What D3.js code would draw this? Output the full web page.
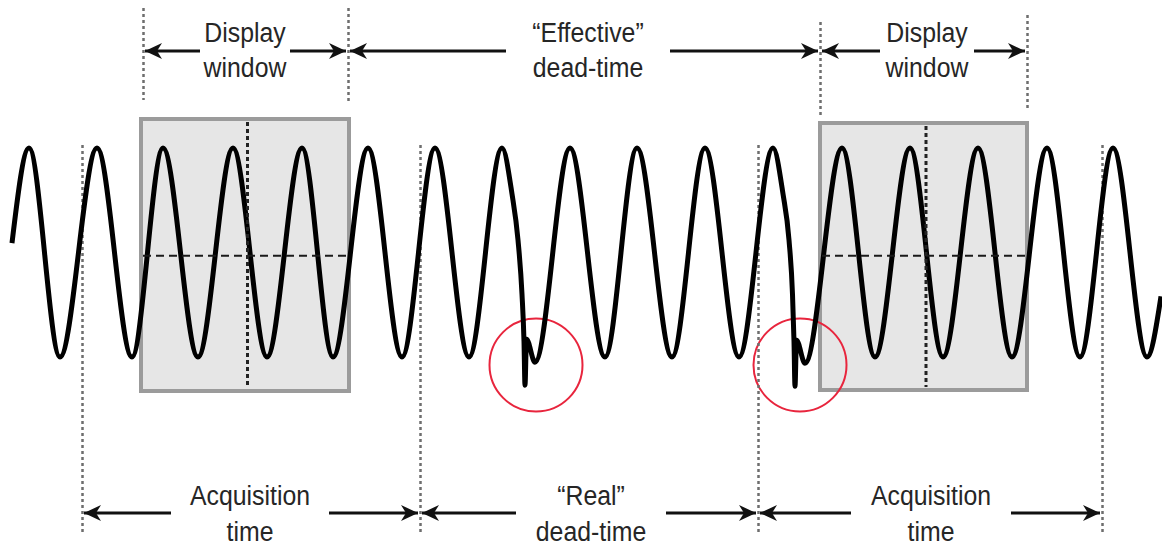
<!DOCTYPE html>
<html>
<head>
<meta charset="utf-8">
<script src="https://cdn.jsdelivr.net/npm/d3@7"></script>
<style>
  html, body { margin: 0; padding: 0; background: #fff; }
  svg { display: block; }
  text { font-family: "Liberation Sans", Arial, sans-serif; }
</style>
</head>
<body>
<svg id="chart" width="1162" height="546"></svg>
<script>
// ---------------- data ----------------
// signal extrema: time position (same units as horizontal axis) and level (-1..1)
const peakT   = [29, 97, 163, 233, 302, 368, 435, 502, 570, 637, 705, 773, 842, 910, 978, 1047, 1113];
const troughT = [60, 132, 198, 267, 333, 402, 469, 605, 672, 739, 875, 943, 1012, 1080, 1147];
// start / end of the trace
const edgeT = [12, 1161];
const edgeV = [0.09, -0.42];
// glitch 1 (re-arm at end of acquisition)
const glitch1T = [512, 518, 522, 524, 525, 526.5, 535];
const glitch1V = [0.56, 0.12, -0.40, -0.85, -1.27, -0.83, -1.05];
// glitch 2
const glitch2T = [783, 789, 792.5, 794, 795, 796.5, 805];
const glitch2V = [0.56, 0.12, -0.40, -0.85, -1.28, -0.84, -1.06];

// acquisition boundaries and display windows
const acqBounds     = [82, 420, 758, 1102];
const displayWins   = [[141, 349], [820, 1027]];
const triggerLevel  = -0.03;
const glitchCenters = [536, 800];

// labels
const topLabels    = [["Display", "window"], ["\u201CEffective\u201D", "dead-time"], ["Display", "window"]];
const topSpans     = [[143, 348], [348, 820], [820, 1027]];
const topCenters   = [245, 588, 927];
const topGaps      = [45, 82, 47];
const bottomLabels = [["Acquisition", "time"], ["\u201CReal\u201D", "dead-time"], ["Acquisition", "time"]];
const bottomCenters = [250, 591, 931];
const bottomGaps   = [79, 75, 80];

// ---------------- drawing ----------------
const W = 1162, H = 546;
const svg = d3.select("#chart");

const x = d3.scaleLinear().domain([0, 1162]).range([0, W]);
const y = d3.scaleLinear().domain([-1, 1]).range([357, 148]);

// arrow marker
const defs = svg.append("defs");
defs.append("marker")
  .attr("id", "arr")
  .attr("viewBox", "-18 -9 20 18")
  .attr("refX", 0).attr("refY", 0)
  .attr("markerUnits", "userSpaceOnUse")
  .attr("markerWidth", 20).attr("markerHeight", 18)
  .attr("orient", "auto")
  .append("path")
  .attr("d", "M0,0 L-17,-8 L-12,0 L-17,8 Z")
  .attr("fill", "#111");

// display-window boxes
const boxTop = [119, 123], boxBot = [391, 390];
displayWins.forEach((w, i) => {
  svg.append("rect")
    .attr("x", x(w[0])).attr("y", boxTop[i])
    .attr("width", x(w[1]) - x(w[0])).attr("height", boxBot[i] - boxTop[i])
    .attr("fill", "#e6e6e6").attr("stroke", "#9b9b9b").attr("stroke-width", 4);
});

// red circles
glitchCenters.forEach(c => {
  svg.append("circle")
    .attr("cx", x(c)).attr("cy", 365).attr("r", 46.5)
    .attr("fill", "none").attr("stroke", "#e8253d").attr("stroke-width", 2);
});

// acquisition boundary dotted lines
svg.append("g").selectAll("line").data(acqBounds).join("line")
  .attr("x1", d => x(d) + 0.5).attr("x2", d => x(d) + 0.5)
  .attr("y1", 145).attr("y2", 533)
  .attr("stroke", "#6e6e6e").attr("stroke-width", 2.5).attr("stroke-dasharray", "3,3");

// display-window dotted lines at top
const topLineY = [[8, 100], [8, 102], [22, 116], [15, 108]];
const winEdges = [displayWins[0][0] + 2, displayWins[0][1] - 1, displayWins[1][0], displayWins[1][1]];
winEdges.forEach((e, i) => {
  svg.append("line")
    .attr("x1", x(e) + 0.5).attr("x2", x(e) + 0.5)
    .attr("y1", topLineY[i][0]).attr("y2", topLineY[i][1])
    .attr("stroke", "#6e6e6e").attr("stroke-width", 2.5).attr("stroke-dasharray", "3,3");
});

// trace
const pts = [];
pts.push([edgeT[0], edgeV[0]]);
peakT.forEach(t => pts.push([t, 1]));
troughT.forEach(t => pts.push([t, -1]));
glitch1T.forEach((t, i) => pts.push([t, glitch1V[i]]));
glitch2T.forEach((t, i) => pts.push([t, glitch2V[i]]));
pts.push([edgeT[1], edgeV[1]]);
pts.sort((a, b) => a[0] - b[0]);

const line = d3.line().x(d => x(d[0])).y(d => y(d[1])).curve(d3.curveMonotoneX);
svg.append("path").datum(pts)
  .attr("d", line)
  .attr("fill", "none").attr("stroke", "#000").attr("stroke-width", 5)
  .attr("stroke-linejoin", "round").attr("stroke-linecap", "butt");

// trigger level and centre line inside the display windows
displayWins.forEach((w, i) => {
  svg.append("line")
    .attr("x1", x(w[0]) + 2).attr("x2", x(w[1]) - 2)
    .attr("y1", y(triggerLevel)).attr("y2", y(triggerLevel))
    .attr("stroke", "#1a1a1a").attr("stroke-width", 2).attr("stroke-dasharray", "8,5");
  const mid = x((w[0] + w[1]) / 2) + 2.5;
  svg.append("line")
    .attr("x1", mid).attr("x2", mid)
    .attr("y1", boxTop[i] + 3).attr("y2", boxBot[i] - 3)
    .attr("stroke", "#222").attr("stroke-width", 3).attr("stroke-dasharray", "4,3");
});

// labels + arrows
function labelRow(labels, centers, gaps, spans, y1, y2, ay) {
  labels.forEach((lab, i) => {
    const g = svg.append("g").attr("transform", `translate(${x(centers[i])},0)`);
    [y1, y2].forEach((yy, k) => {
      g.append("text")
        .attr("transform", `translate(0,${yy}) scale(0.92,1)`)
        .attr("text-anchor", "middle")
        .attr("font-size", 27)
        .attr("fill", "#262626")
        .text(lab[k]);
    });
    const s = spans[i];
    svg.append("line")
      .attr("x1", x(centers[i]) - gaps[i]).attr("x2", x(s[0]) + 2)
      .attr("y1", ay).attr("y2", ay)
      .attr("stroke", "#111").attr("stroke-width", 3)
      .attr("marker-end", "url(#arr)");
    svg.append("line")
      .attr("x1", x(centers[i]) + gaps[i]).attr("x2", x(s[1]) - 2)
      .attr("y1", ay).attr("y2", ay)
      .attr("stroke", "#111").attr("stroke-width", 3)
      .attr("marker-end", "url(#arr)");
  });
}
labelRow(topLabels, topCenters, topGaps, topSpans, 42, 77, 51);
const bottomSpans = [[acqBounds[0], acqBounds[1]], [acqBounds[1], acqBounds[2]], [acqBounds[2], acqBounds[3]]];
labelRow(bottomLabels, bottomCenters, bottomGaps, bottomSpans, 505, 541, 513);
</script>
</body>
</html>
